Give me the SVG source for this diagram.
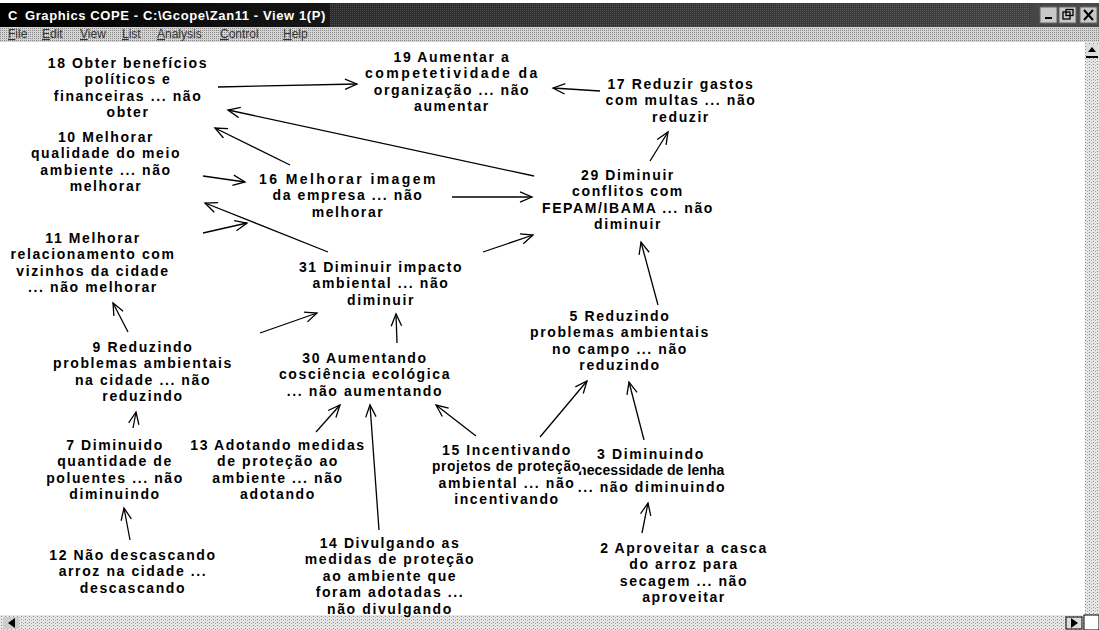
<svg xmlns="http://www.w3.org/2000/svg" width="1099" height="630" viewBox="0 0 1099 630">
  <defs>
    <style>
      .t { font-family: "Liberation Sans", Arial, sans-serif; font-weight: bold; font-size: 14px; letter-spacing: 1.6px; text-anchor: middle; fill: #000; }
      .halo { stroke: #fff; stroke-width: 4px; paint-order: stroke; stroke-linejoin: round; }
      .edge { stroke: #000; stroke-width: 1.3; fill: none; marker-end: url(#arrow); }
      .title { font-family: "Liberation Sans", Arial, sans-serif; font-weight: bold; font-size: 13px; fill: #fff; }
      .menu { font-family: "Liberation Sans", Arial, sans-serif; font-size: 12px; fill: #333; }
      .ul { text-decoration: underline; }
      .btn { fill: #c8c8c8; stroke: #666; stroke-width: 1; }
    </style>
    <pattern id="ditherLight" width="2" height="2" patternUnits="userSpaceOnUse">
      <rect width="2" height="2" fill="#d4d4d4"/>
      <rect width="1" height="1" fill="#8a8a8a"/>
    </pattern>
    <pattern id="ditherDark" width="2" height="2" patternUnits="userSpaceOnUse">
      <rect width="2" height="2" fill="#3a3a3a"/>
      <rect width="1" height="1" fill="#777"/>
    </pattern>
    <pattern id="ditherSparse" width="4" height="3" patternUnits="userSpaceOnUse">
      <rect width="4" height="3" fill="#e6e6e6"/>
      <rect x="1" y="1" width="1" height="1" fill="#888"/>
      <rect x="3" y="2" width="1" height="1" fill="#aaa"/>
    </pattern>
    <linearGradient id="titleGrad" x1="0" y1="0" x2="1" y2="0">
      <stop offset="0" stop-color="#000"/>
      <stop offset="0.45" stop-color="#222"/>
      <stop offset="1" stop-color="#4a4a4a"/>
    </linearGradient>
    <marker id="arrow" markerUnits="userSpaceOnUse" markerWidth="16" markerHeight="14" refX="13" refY="6" orient="auto">
      <path d="M1,0.8 L13,6 L1,11.2" fill="none" stroke="#000" stroke-width="1.3"/>
    </marker>
  </defs>

  <!-- window frame -->
  <rect width="1099" height="630" fill="#fff"/>
  <rect x="0" y="3" width="1099" height="24" fill="url(#titleGrad)"/>
  <rect x="330" y="3" width="700" height="24" fill="url(#ditherDark)" opacity="0.55"/>
  <text class="title" x="8" y="20">C</text>
  <text class="title" x="25" y="20" letter-spacing="0.6">Graphics COPE - C:\Gcope\Zan11 - View 1(P)</text>
  <g id="window-buttons">
    <rect class="btn" x="1040" y="7" width="17" height="16"/>
    <rect x="1045" y="17" width="7" height="2" fill="#000"/>
    <rect class="btn" x="1059" y="7" width="17" height="16"/>
    <rect x="1063" y="12" width="7" height="7" fill="none" stroke="#000" stroke-width="1.3"/>
    <rect x="1066" y="9.5" width="7" height="6" fill="none" stroke="#000" stroke-width="1.3"/>
    <rect class="btn" x="1080" y="7" width="17" height="16"/>
    <path d="M1084,10 L1093,20 M1093,10 L1084,20" stroke="#000" stroke-width="2"/>
  </g>
  <rect x="0" y="27" width="1099" height="15" fill="url(#ditherLight)"/>
  <g id="menu" class="menu">
    <text x="8" y="38"><tspan class="ul">F</tspan>ile</text>
    <text x="42" y="38"><tspan class="ul">E</tspan>dit</text>
    <text x="80" y="38"><tspan class="ul">V</tspan>iew</text>
    <text x="122" y="38"><tspan class="ul">L</tspan>ist</text>
    <text x="157" y="38"><tspan class="ul">A</tspan>nalysis</text>
    <text x="220" y="38"><tspan class="ul">C</tspan>ontrol</text>
    <text x="283" y="38"><tspan class="ul">H</tspan>elp</text>
  </g>
  <!-- scrollbars -->
  <rect x="1085" y="42" width="14" height="573" fill="url(#ditherSparse)"/>
  <rect x="1086" y="44" width="12" height="12" fill="#ddd"/>
  <path d="M1088,52 L1096,52 L1092,47 Z" fill="#000"/>
  <rect x="1086" y="56" width="12" height="2" fill="#000"/>
  <rect x="0" y="615" width="1099" height="15" fill="url(#ditherSparse)"/>
  <rect x="3" y="617" width="16" height="12" fill="#ccc"/>
  <path d="M15,618 L15,628 L8,623 Z" fill="#000"/>
  <rect x="1066" y="617" width="16" height="12" fill="#ddd" stroke="#000" stroke-width="1"/>
  <path d="M1071,618 L1071,628 L1078,623 Z" fill="#000"/>
  <rect x="1084" y="615" width="15" height="15" fill="#fff" stroke="#000" stroke-width="1"/>

  <!-- connectors -->
  <g id="connectors">
    <path class="edge" d="M218,87 L357,84"/>
    <path class="edge" d="M600,91 L553,88"/>
    <path class="edge" d="M650,161 L668,132"/>
    <path class="edge" d="M534,176 L228,110"/>
    <path class="edge" d="M290,165 L215,128"/>
    <path class="edge" d="M203,176 L245,182"/>
    <path class="edge" d="M452,197 L532,197"/>
    <path class="edge" d="M328,252 L205,203"/>
    <path class="edge" d="M203,233 L247,223"/>
    <path class="edge" d="M483,252 L533,235"/>
    <path class="edge" d="M260,333 L317,313"/>
    <path class="edge" d="M128,332 L113,303"/>
    <path class="edge" d="M397,343 L396,314"/>
    <path class="edge" d="M133,428 L136,412"/>
    <path class="edge" d="M130,540 L124,508"/>
    <path class="edge" d="M316,432 L340,405"/>
    <path class="edge" d="M379,530 L370,405"/>
    <path class="edge" d="M476,436 L436,405"/>
    <path class="edge" d="M540,437 L587,381"/>
    <path class="edge" d="M644,440 L629,382"/>
    <path class="edge" d="M642,533 L648,503"/>
    <path class="edge" d="M658,305 L641,242"/>
  </g>

  <!-- nodes -->
  <g id="n18"><text class="t" y="68"><tspan x="128">18 Obter benefícios</tspan><tspan x="128" dy="16.4">políticos e</tspan><tspan x="128" dy="16.4">financeiras ... não</tspan><tspan x="128" dy="16.4">obter</tspan></text></g>
  <g id="n19"><text class="t" y="62"><tspan x="452">19 Aumentar a</tspan><tspan x="452" dy="16.4" textLength="174" lengthAdjust="spacing">competetividade da</tspan><tspan x="452" dy="16.4">organização ... não</tspan><tspan x="452" dy="16.4">aumentar</tspan></text></g>
  <g id="n17"><text class="t" y="89"><tspan x="681">17 Reduzir gastos</tspan><tspan x="681" dy="16.4">com multas ... não</tspan><tspan x="681" dy="16.4">reduzir</tspan></text></g>
  <g id="n10"><text class="t" y="142"><tspan x="106">10 Melhorar</tspan><tspan x="106" dy="16.4">qualidade do meio</tspan><tspan x="106" dy="16.4">ambiente ... não</tspan><tspan x="106" dy="16.4">melhorar</tspan></text></g>
  <g id="n16"><text class="t" y="184"><tspan x="348" textLength="178" lengthAdjust="spacing">16 Melhorar imagem</tspan><tspan x="348" dy="16.4">da empresa ... não</tspan><tspan x="348" dy="16.4">melhorar</tspan></text></g>
  <g id="n29"><text class="t" y="180"><tspan x="628">29 Diminuir</tspan><tspan x="628" dy="16.4">conflitos com</tspan><tspan x="628" dy="16.4">FEPAM/IBAMA ... não</tspan><tspan x="628" dy="16.4">diminuir</tspan></text></g>
  <g id="n11"><text class="t" y="243"><tspan x="93">11 Melhorar</tspan><tspan x="93" dy="16.4">relacionamento com</tspan><tspan x="93" dy="16.4">vizinhos da cidade</tspan><tspan x="93" dy="16.4">... não melhorar</tspan></text></g>
  <g id="n31"><text class="t" y="272"><tspan x="381">31 Diminuir impacto</tspan><tspan x="381" dy="16.4">ambiental ... não</tspan><tspan x="381" dy="16.4">diminuir</tspan></text></g>
  <g id="n9"><text class="t" y="352"><tspan x="143">9 Reduzindo</tspan><tspan x="143" dy="16.4">problemas ambientais</tspan><tspan x="143" dy="16.4">na cidade ... não</tspan><tspan x="143" dy="16.4">reduzindo</tspan></text></g>
  <g id="n30"><text class="t" y="363"><tspan x="365">30 Aumentando</tspan><tspan x="365" dy="16.4">cosciência ecológica</tspan><tspan x="365" dy="16.4">... não aumentando</tspan></text></g>
  <g id="n5"><text class="t" y="321"><tspan x="620">5 Reduzindo</tspan><tspan x="620" dy="16.4">problemas ambientais</tspan><tspan x="620" dy="16.4">no campo ... não</tspan><tspan x="620" dy="16.4">reduzindo</tspan></text></g>
  <g id="n7"><text class="t" y="450"><tspan x="115">7 Diminuido</tspan><tspan x="115" dy="16.4">quantidade de</tspan><tspan x="115" dy="16.4">poluentes ... não</tspan><tspan x="115" dy="16.4">diminuindo</tspan></text></g>
  <g id="n13"><text class="t" y="450"><tspan x="278">13 Adotando medidas</tspan><tspan x="278" dy="16.4">de proteção ao</tspan><tspan x="278" dy="16.4">ambiente ... não</tspan><tspan x="278" dy="16.4">adotando</tspan></text></g>
  <g id="n3"><text class="t" y="459"><tspan x="651">3 Diminuindo</tspan><tspan x="652" dy="16.4" textLength="148" lengthAdjust="spacing">necessidade de lenha</tspan><tspan x="652" dy="16.4">... não diminuindo</tspan></text></g>
  <g id="n15"><text class="t halo" y="455"><tspan x="507">15 Incentivando</tspan><tspan x="507" dy="16.4" textLength="150" lengthAdjust="spacing">projetos de proteção</tspan><tspan x="507" dy="16.4">ambiental ... não</tspan><tspan x="507" dy="16.4">incentivando</tspan></text></g>
  <g id="n12"><text class="t" y="560"><tspan x="133">12 Não descascando</tspan><tspan x="133" dy="16.4">arroz na cidade ...</tspan><tspan x="133" dy="16.4">descascando</tspan></text></g>
  <g id="n14"><text class="t" y="548"><tspan x="390">14 Divulgando as</tspan><tspan x="390" dy="16.4">medidas de proteção</tspan><tspan x="390" dy="16.4">ao ambiente que</tspan><tspan x="390" dy="16.4">foram adotadas ...</tspan><tspan x="390" dy="16.4">não divulgando</tspan></text></g>
  <g id="n2"><text class="t" y="553"><tspan x="684">2 Aproveitar a casca</tspan><tspan x="684" dy="16.4">do arroz para</tspan><tspan x="684" dy="16.4">secagem ... não</tspan><tspan x="684" dy="16.4">aproveitar</tspan></text></g>
</svg>
